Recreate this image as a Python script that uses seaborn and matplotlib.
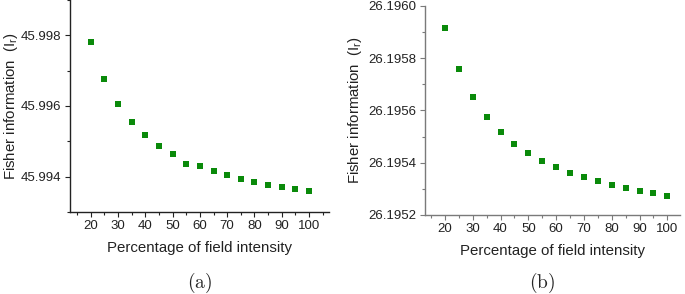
#!/usr/bin/env python3
"""Fisher information vs percentage of field intensity, two panels"""

import numpy as np
import pandas as pd
import matplotlib
matplotlib.use("Agg")
import matplotlib.pyplot as plt
from matplotlib.ticker import MultipleLocator, FormatStrFormatter
import seaborn as sns

percent = [20, 25, 30, 35, 40, 45, 50, 55, 60, 65, 70, 75, 80, 85, 90, 95, 100]
fisher_a = [45.99780, 45.99677, 45.99605, 45.99555, 45.99517, 45.99488, 45.99464,
            45.99436, 45.99430, 45.99416, 45.99405, 45.99394, 45.99385, 45.99377,
            45.99370, 45.99364, 45.99358]
fisher_b = [26.195915, 26.195758, 26.195652, 26.195574, 26.195519, 26.195473,
            26.195438, 26.195408, 26.195383, 26.195361, 26.195345, 26.195328,
            26.195315, 26.195303, 26.195291, 26.195284, 26.195273]

sns.set_style("ticks")
plt.rcParams['font.family'] = ['Liberation Sans', 'DejaVu Sans']
plt.rcParams['mathtext.fontset'] = 'cm'

df = pd.DataFrame({"pct": percent, "a": fisher_a, "b": fisher_b})

fig = plt.figure(figsize=(6.85, 2.94), dpi=100)
ax_a = fig.add_axes([0.102, 0.279, 0.378, 0.721])
ax_b = fig.add_axes([0.620, 0.269, 0.372, 0.711])

green = "#0a8a0a"

panels = [
    (ax_a, "a", (45.993, 45.999), 0.002, "%.3f", (12.3, 107.3), "#222222", "(a)", 200, 1.0),
    (ax_b, "b", (26.1952, 26.1960), 0.0002, "%.4f", (12.7, 104.4), "#7a7a7a", "(b)", 542, 3.5),
]

for ax, col, ylim, ystep, fmt, xlim, spine_col, tag, tag_x, ypad in panels:
    sns.scatterplot(data=df, x="pct", y=col, ax=ax, marker="s", s=17,
                    color=green, linewidth=0)
    ax.set_xlim(*xlim)
    ax.set_ylim(*ylim)
    ax.xaxis.set_major_locator(MultipleLocator(10))
    ax.xaxis.set_minor_locator(MultipleLocator(5))
    ax.yaxis.set_major_locator(MultipleLocator(ystep))
    ax.yaxis.set_minor_locator(MultipleLocator(ystep / 2))
    ax.yaxis.set_major_formatter(FormatStrFormatter(fmt))
    sns.despine(ax=ax)
    for s in ("left", "bottom"):
        ax.spines[s].set_color(spine_col)
        ax.spines[s].set_linewidth(1.0)
    ax.tick_params(which="major", length=3.5, width=0.8, color=spine_col,
                   labelsize=9.5, labelcolor="#222222", direction="out", pad=2.5)
    ax.tick_params(which="minor", length=2, width=0.8, color=spine_col, direction="out")
    ax.set_xlabel("Percentage of field intensity", fontsize=10.8, color="#222222", labelpad=6)
    ax.set_ylabel(r"Fisher information  (I$\mathregular{_r}$)", fontsize=10.8,
                  color="#222222", labelpad=ypad)
    fig.text(tag_x / 685, 1 - 283 / 294, r"$\mathrm{%s}$" % tag, fontsize=14,
             ha="center", va="center")

plt.savefig("out.png", dpi=100)
